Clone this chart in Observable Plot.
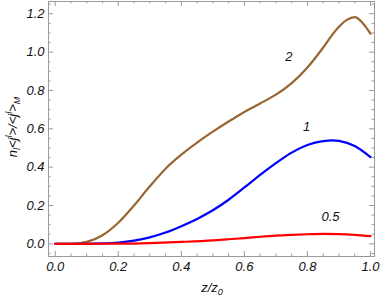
<!DOCTYPE html>
<html><head><meta charset="utf-8">
<script src="https://cdn.jsdelivr.net/npm/d3@7"></script>
<script src="https://cdn.jsdelivr.net/npm/@observablehq/plot@0.6"></script>
<style>body{margin:0;background:#fff} svg{font-family:"Liberation Sans",Arial,sans-serif}</style>
</head><body><div id="chart"></div>
<script>
// z/z0 sample positions and values
const x2 = [0, 0.05, 0.1, 0.15, 0.2, 0.25, 0.3, 0.35, 0.4, 0.45, 0.5, 0.55, 0.6, 0.65, 0.7, 0.75, 0.8, 0.85, 0.875, 0.9, 0.925, 0.95, 0.975, 1.0];
const y2 = [0, 0, 0.010, 0.045, 0.110, 0.200, 0.300, 0.392, 0.465, 0.528, 0.585, 0.638, 0.688, 0.732, 0.778, 0.838, 0.920, 1.024, 1.082, 1.132, 1.168, 1.182, 1.152, 1.096];
const x1 = [0, 0.1, 0.15, 0.2, 0.25, 0.3, 0.35, 0.4, 0.45, 0.5, 0.55, 0.6, 0.65, 0.7, 0.75, 0.8, 0.85, 0.88, 0.9, 0.95, 1.0];
const y1 = [0, 0, 0.002, 0.007, 0.017, 0.034, 0.059, 0.092, 0.130, 0.175, 0.230, 0.294, 0.360, 0.421, 0.476, 0.516, 0.536, 0.540, 0.537, 0.510, 0.452];
const x05 = [0, 0.2, 0.3, 0.4, 0.5, 0.55, 0.6, 0.65, 0.7, 0.75, 0.8, 0.85, 0.9, 0.95, 1.0];
const y05 = [0, 0.001, 0.004, 0.010, 0.018, 0.024, 0.030, 0.037, 0.043, 0.047, 0.050, 0.052, 0.051, 0.047, 0.040];

const seriesNames = ["2", "1", "0.5"];
const seriesColors = ["#996633", "#0000ff", "#ff0000"];
const seriesX = [x2, x1, x05];
const seriesY = [y2, y1, y05];

const labelX = [0.741, 0.797, 0.873];
const labelY = [0.973, 0.608, 0.139];

const xMajor = [0, 0.2, 0.4, 0.6, 0.8, 1.0];
const yMajor = [0, 0.2, 0.4, 0.6, 0.8, 1.0, 1.2];

const data = seriesNames.flatMap((s, k) => seriesX[k].map((x, i) => ({x, y: seriesY[k][i], s})));
const labels = seriesNames.map((s, k) => ({x: labelX[k], y: labelY[k], s}));

const xMinor = d3.range(0, 21).map(i => i * 0.05).filter(v => Math.abs(v * 5 - Math.round(v * 5)) > 1e-6);
const yMinor = d3.range(-1, 26).map(i => i * 0.05).filter(v => Math.abs(v * 5 - Math.round(v * 5)) > 1e-6);

const W = 382, H = 300, mL = 48, mR = 8, mT = 1, mB = 44;
const innerW = W - mL - mR, innerH = H - mT - mB;
const major = 5, minor = 2.5;
const frameColor = "#9a9a9a";
const fmt = d => d.toFixed(1);

const chart = Plot.plot({
  width: W, height: H,
  marginLeft: mL, marginRight: mR, marginTop: mT, marginBottom: mB,
  x: {domain: [-0.0213, 1.0127]},
  y: {domain: [-0.066, 1.264]},
  color: {domain: seriesNames, range: seriesColors},
  style: {fontFamily: "Liberation Sans, Arial, sans-serif", fontSize: "13px", fontStyle: "italic", background: "#fff"},
  marks: [
    Plot.axisX({ticks: xMajor, tickSize: 0, tickPadding: 5, tickFormat: fmt, fill: "#111", fontSize: 13, label: null}),
    Plot.axisY({ticks: yMajor, tickSize: 0, tickPadding: 4, tickFormat: fmt, fill: "#111", fontSize: 13, label: null}),
    // inward frame ticks
    Plot.tickX(xMajor, {x: d => d, insetTop: innerH - major, stroke: frameColor}),
    Plot.tickX(xMinor, {x: d => d, insetTop: innerH - minor, stroke: frameColor}),
    Plot.tickX(xMajor, {x: d => d, insetBottom: innerH - major, stroke: frameColor}),
    Plot.tickX(xMinor, {x: d => d, insetBottom: innerH - minor, stroke: frameColor}),
    Plot.tickY(yMajor, {y: d => d, insetRight: innerW - major, stroke: frameColor}),
    Plot.tickY(yMinor, {y: d => d, insetRight: innerW - minor, stroke: frameColor}),
    Plot.tickY(yMajor, {y: d => d, insetLeft: innerW - major, stroke: frameColor}),
    Plot.tickY(yMinor, {y: d => d, insetLeft: innerW - minor, stroke: frameColor}),
    Plot.frame({stroke: frameColor}),
    Plot.line(data, {x: "x", y: "y", z: "s", stroke: "s", strokeWidth: 2.2, curve: "monotone-x"}),
    Plot.text(labels, {x: "x", y: "y", text: "s", fill: "#111", fontSize: 13, fontStyle: "italic"})
  ]
});
document.getElementById("chart").appendChild(chart);

const svg = d3.select(chart);
const yl = svg.append("text")
  .attr("transform", "translate(16.5,127) rotate(-90)")
  .attr("text-anchor", "middle")
  .attr("fill", "#111")
  .style("font-style", "italic").style("font-size", "13px");
yl.append("tspan").text("n");
yl.append("tspan").attr("dy", 3).attr("font-size", 9).text("l");
yl.append("tspan").attr("dy", -3).text("<j");
yl.append("tspan").attr("dy", -5).attr("font-size", 9).text("l");
yl.append("tspan").attr("dy", 5).text(">/<j");
yl.append("tspan").attr("dy", -5).attr("font-size", 9).text("l");
yl.append("tspan").attr("dy", 5).text(">");
yl.append("tspan").attr("dy", 3).attr("font-size", 9).text("M");

const xl = svg.append("text")
  .attr("x", 212).attr("y", 292)
  .attr("text-anchor", "middle")
  .attr("fill", "#111")
  .style("font-style", "italic").style("font-size", "13px");
xl.append("tspan").text("z/z");
xl.append("tspan").attr("dy", 3).attr("font-size", 9).text("0");
</script>
</body></html>
